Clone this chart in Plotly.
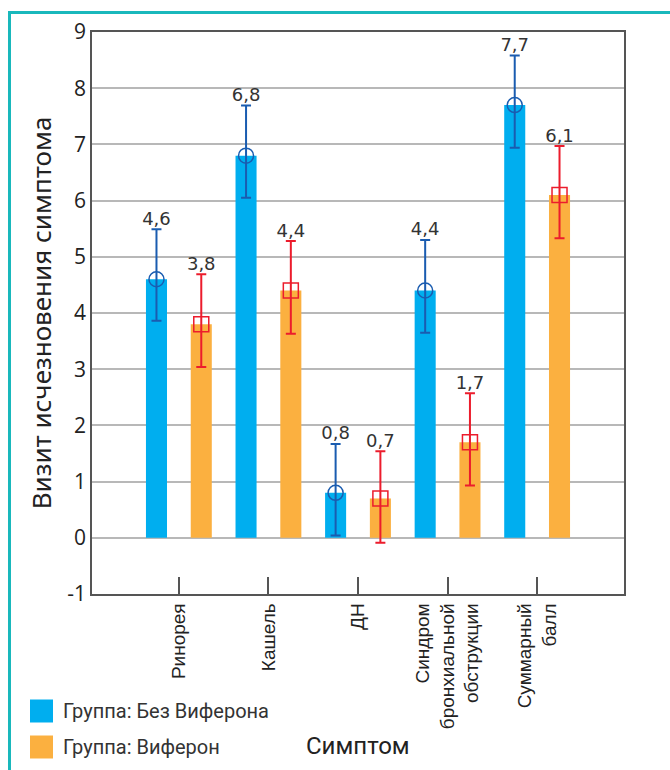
import plotly.graph_objects as go
import numpy as np

categories = ["Ринорея", "Кашель", "ДН", "Синдром<br>бронхиальной<br>обструкции", "Суммарный<br>балл"]
group_names = ["Группа: Без Виферона", "Группа: Виферон"]
no_viferon = [4.6, 6.8, 0.8, 4.4, 7.7]
no_viferon_hi = [5.49, 7.69, 1.67, 5.30, 8.58]
no_viferon_lo = [3.86, 6.05, 0.04, 3.65, 6.94]
viferon = [3.8, 4.4, 0.7, 1.7, 6.1]
viferon_hi = [4.69, 5.28, 1.54, 2.57, 6.97]
viferon_lo = [3.04, 3.63, -0.09, 0.93, 5.33]
y_ticks = list(range(-1, 10))
y_ticktext = [str(v) for v in y_ticks]

BLUE = "#00aeef"
ORANGE = "#fbb040"
DBLUE = "#1a5cb0"
RED = "#ec1c2c"
FONT = "Noto Sans"
LEG = "Roboto"

W, H = 670, 770
ML, MR, MT, MB = 92, 46, 32, 176
PW, PH = W - ML - MR, H - MT - MB

def px(xp):
    return (xp - ML) / PW

def py(yp):
    return (H - MB - yp) / PH

pos = np.arange(len(categories))
off = 0.25
bw = 0.235

def fmt(v):
    return f"{v:.1f}".replace(".", ",")

fig = go.Figure()
series = [
    (group_names[0], no_viferon, no_viferon_hi, no_viferon_lo, BLUE, DBLUE, "circle-open", -off),
    (group_names[1], viferon, viferon_hi, viferon_lo, ORANGE, RED, "square-open", off),
]
for name, vals, hi, lo, col, ecol, sym, dx in series:
    x = pos + dx
    fig.add_trace(go.Bar(x=x, y=vals, width=bw, marker_color=col, name=name,
                         marker_line_width=0, showlegend=False))
    fig.add_trace(go.Scatter(
        x=x, y=vals, mode="markers", showlegend=False,
        marker=dict(symbol=sym, size=15, color=ecol, line=dict(width=1.5, color=ecol)),
        error_y=dict(type="data", symmetric=False,
                     array=[h - v for h, v in zip(hi, vals)],
                     arrayminus=[v - l for l, v in zip(lo, vals)],
                     color=ecol, thickness=2, width=5),
    ))
    fig.add_trace(go.Scatter(
        x=x, y=hi, mode="text", text=[fmt(v) for v in vals], textposition="top center",
        textfont=dict(family="DejaVu Sans", size=18, color="#333333"), showlegend=False, hoverinfo="skip",
    ))

# manual legend (swatches + text)
for i, (name, col) in enumerate([(group_names[0], BLUE), (group_names[1], ORANGE)]):
    cy = 711 + 36 * i
    fig.add_shape(type="rect", xref="paper", yref="paper",
                  x0=px(30), x1=px(53), y0=py(cy - 11.5), y1=py(cy + 11.5),
                  fillcolor=col, line=dict(width=0))
    fig.add_annotation(text=name, xref="paper", yref="paper", x=px(61), y=py(cy),
                       xanchor="left", yanchor="middle", showarrow=False,
                       font=dict(family=LEG, size=20, color="#333333"))

fig.add_annotation(text="Симптом", xref="paper", yref="paper", x=px(358), y=py(746),
                   showarrow=False, font=dict(family=LEG, size=24, color="#222222"),
                   xanchor="center", yanchor="middle")

# teal frame
fig.add_shape(type="line", xref="paper", yref="paper", x0=px(9.5), x1=px(9.5), y0=py(11), y1=py(775),
              line=dict(color="#19b8bc", width=3))
fig.add_shape(type="line", xref="paper", yref="paper", x0=px(8), x1=px(675), y0=py(12.5), y1=py(12.5),
              line=dict(color="#19b8bc", width=3))

fig.update_layout(
    width=W, height=H,
    margin=dict(l=ML, r=MR, t=MT, b=MB, autoexpand=False),
    plot_bgcolor="white", paper_bgcolor="white",
    barmode="overlay",
    showlegend=False,
    xaxis=dict(range=[-0.97, 4.97], tickvals=pos, ticktext=categories, tickangle=-90,
               ticks="inside", ticklen=17, tickcolor="#555555", tickwidth=1.5,
               showline=True, linecolor="#555555", linewidth=1.5, mirror=True,
               showgrid=False, zeroline=False, automargin=False,
               tickfont=dict(family="Liberation Sans", size=19, color="#222222")),
    yaxis=dict(range=[-1, 9], tickvals=y_ticks, ticktext=y_ticktext, ticks="",
               showline=True, linecolor="#555555", linewidth=1.5, mirror=True,
               showgrid=True, gridcolor="#b8b8b8", gridwidth=1.5, zeroline=False,
               automargin=False,
               tickfont=dict(family="Open Sans", size=21, color="#222222"),
               title=dict(text="Визит исчезновения симптома",
                          font=dict(family=FONT, size=26, color="#222222"), standoff=8)),
)

fig.write_html("out.html")
